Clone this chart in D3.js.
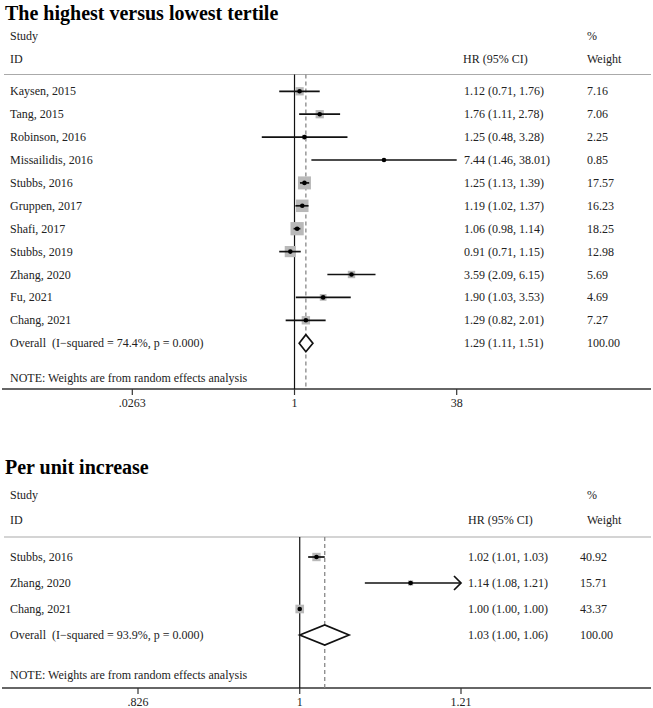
<!DOCTYPE html>
<html><head><meta charset="utf-8">
<script src="https://cdn.jsdelivr.net/npm/d3@7"></script>
<style>
html,body{margin:0;padding:0;background:#fff;}
text{font-family:"Liberation Serif","Times New Roman",serif;fill:#222;white-space:pre;}
</style></head>
<body><svg id="c" width="653" height="708"></svg>
<script>
// ---- Panel 1: highest vs lowest tertile ----
const titleTop = "The highest versus lowest tertile";
const studiesTop = ["Kaysen, 2015","Tang, 2015","Robinson, 2016","Missailidis, 2016","Stubbs, 2016","Gruppen, 2017","Shafi, 2017","Stubbs, 2019","Zhang, 2020","Fu, 2021","Chang, 2021"];
const hrTop    = [1.12,1.76,1.25,7.44,1.25,1.19,1.06,0.91,3.59,1.90,1.29];
const lowerTop = [0.71,1.11,0.48,1.46,1.13,1.02,0.98,0.71,2.09,1.03,0.82];
const upperTop = [1.76,2.78,3.28,38.01,1.39,1.37,1.14,1.15,6.15,3.53,2.01];
const weightTop= [7.16,7.06,2.25,0.85,17.57,16.23,18.25,12.98,5.69,4.69,7.27];
const overallTop = [1.29,1.11,1.51];
const overallTopLabel = "Overall  (I\u2212squared = 74.4%, p = 0.000)";
const ticksTop = [0.0263,1,38];
const tickLabelsTop = [".0263","1","38"];

// ---- Panel 2: per unit increase ----
const titleBot = "Per unit increase";
const studiesBot = ["Stubbs, 2016","Zhang, 2020","Chang, 2021"];
const hrBot    = [1.02,1.14,1.00];
const lowerBot = [1.01,1.08,1.00];
const upperBot = [1.03,1.21,1.00];
const weightBot= [40.92,15.71,43.37];
const overallBot = [1.03,1.00,1.06];
const overallBotLabel = "Overall  (I\u2212squared = 93.9%, p = 0.000)";
const ticksBot = [0.826,1,1.21];
const tickLabelsBot = [".826","1","1.21"];

const noteText = "NOTE: Weights are from random effects analysis";

const svg = d3.select("#c");
const FS = 12;

function panel(cfg){
  const g = svg.append("g");
  const x = d3.scaleLog().domain([cfg.ticks[0], cfg.ticks[cfg.ticks.length-1]]).range(cfg.xr);
  const n = cfg.studies.length;
  const y = d3.scaleLinear().domain([0,1]).range([cfg.y0, cfg.y0+cfg.step]);
  // title
  g.append("text").attr("x",5).attr("y",cfg.titleY).attr("dominant-baseline","central")
    .style("font-size","20px").style("font-weight","bold").style("fill","#000").text(cfg.title);
  // header
  const hdr = [["Study",10,cfg.h1],["ID",10,cfg.h2],["%",cfg.wHx,cfg.h1],["HR (95% CI)",cfg.hrHx,cfg.h2],["Weight",cfg.wHx,cfg.h2]];
  hdr.forEach(h=>g.append("text").attr("x",h[1]).attr("y",h[2]).attr("dominant-baseline","central").style("font-size",FS+"px").text(h[0]));
  // separator
  g.append("line").attr("x1",4).attr("x2",651).attr("y1",cfg.sep).attr("y2",cfg.sep).attr("stroke","#aaa").attr("stroke-width",1.2);
  // axis
  const axG = g.append("g").attr("transform",`translate(0,${cfg.axisY})`);
  axG.append("line").attr("x1",2).attr("x2",651).attr("stroke","#333").attr("stroke-width",1.3);
  cfg.ticks.forEach((t,i)=>{
    axG.append("line").attr("x1",x(t)).attr("x2",x(t)).attr("y1",0).attr("y2",6).attr("stroke","#333").attr("stroke-width",1.2);
    axG.append("text").attr("x",x(t)).attr("y",14).attr("text-anchor","middle").attr("dominant-baseline","central").style("font-size",FS+"px").text(cfg.tickLabels[i]);
  });
  // null line & overall dashed line
  g.append("line").attr("x1",x(1)).attr("x2",x(1)).attr("y1",cfg.sep).attr("y2",cfg.axisY).attr("stroke","#111").attr("stroke-width",1.2);
  g.append("line").attr("x1",x(cfg.overall[0])).attr("x2",x(cfg.overall[0])).attr("y1",cfg.sep).attr("y2",cfg.axisY)
    .attr("stroke","#888").attr("stroke-width",1.3).attr("stroke-dasharray","4,3");
  // rows
  const xmax = cfg.ticks[cfg.ticks.length-1];
  cfg.studies.forEach((s,i)=>{
    const yy = y(i);
    g.append("text").attr("x",10).attr("y",yy).attr("dominant-baseline","central").style("font-size",FS+"px").text(s);
    const side = cfg.sq*Math.sqrt(cfg.weight[i]);
    g.append("rect").attr("x",x(cfg.hr[i])-side/2).attr("y",yy-side/2).attr("width",side).attr("height",side).attr("fill","#b9b9b9");
    const hiV = Math.min(cfg.upper[i], xmax);
    g.append("line").attr("x1",x(cfg.lower[i])).attr("x2",x(hiV)).attr("y1",yy).attr("y2",yy).attr("stroke","#111").attr("stroke-width",1.7);
    if (cfg.upper[i] >= xmax && cfg.arrow) {
      const xt = x(hiV);
      g.append("path").attr("d",`M${xt-7},${yy-7}L${xt},${yy}L${xt-7},${yy+7}`).attr("fill","none").attr("stroke","#111").attr("stroke-width",1.7);
    }
    g.append("circle").attr("cx",x(cfg.hr[i])).attr("cy",yy).attr("r",2.3).attr("fill","#000");
    g.append("text").attr("x",cfg.hrX).attr("y",yy).attr("dominant-baseline","central").style("font-size",FS+"px")
      .text(`${cfg.hr[i].toFixed(2)} (${cfg.lower[i].toFixed(2)}, ${cfg.upper[i].toFixed(2)})`);
    g.append("text").attr("x",cfg.wX).attr("y",yy).attr("dominant-baseline","central").style("font-size",FS+"px").text(cfg.weight[i].toFixed(2));
  });
  // overall
  const oy = y(n);
  g.append("text").attr("x",10).attr("y",oy).attr("dominant-baseline","central").style("font-size",FS+"px").text(cfg.overallLabel);
  const o = cfg.overall, hh = cfg.dh;
  g.append("path").attr("d",`M${x(o[1])},${oy}L${x(o[0])},${oy-hh}L${x(o[2])},${oy}L${x(o[0])},${oy+hh}Z`)
    .attr("fill","#fff").attr("stroke","#111").attr("stroke-width",1.7);
  g.append("text").attr("x",cfg.hrX).attr("y",oy).attr("dominant-baseline","central").style("font-size",FS+"px")
    .text(`${o[0].toFixed(2)} (${o[1].toFixed(2)}, ${o[2].toFixed(2)})`);
  g.append("text").attr("x",cfg.wX).attr("y",oy).attr("dominant-baseline","central").style("font-size",FS+"px").text((100).toFixed(2));
  // note
  g.append("text").attr("x",10).attr("y",cfg.noteY).attr("dominant-baseline","central").style("font-size",FS+"px").text(noteText);
}

panel({title:titleTop, titleY:13, h1:36, h2:59, sep:74.5, axisY:389, y0:91.3, step:22.9,
  studies:studiesTop, hr:hrTop, lower:lowerTop, upper:upperTop, weight:weightTop, overall:overallTop,
  overallLabel:overallTopLabel, ticks:ticksTop, tickLabels:tickLabelsTop, xr:[132.3,456.7],
  hrX:464, hrHx:463, wX:587, wHx:587, sq:3.1, dh:8.5, noteY:378, arrow:false});

panel({title:titleBot, titleY:467, h1:495, h2:520, sep:537, axisY:688, y0:557, step:26,
  studies:studiesBot, hr:hrBot, lower:lowerBot, upper:upperBot, weight:weightBot, overall:overallBot,
  overallLabel:overallBotLabel, ticks:ticksBot, tickLabels:tickLabelsBot, xr:[138,461],
  hrX:468, hrHx:468, wX:580, wHx:587, sq:1.31, dh:10, noteY:675, arrow:true});
</script></body></html>
